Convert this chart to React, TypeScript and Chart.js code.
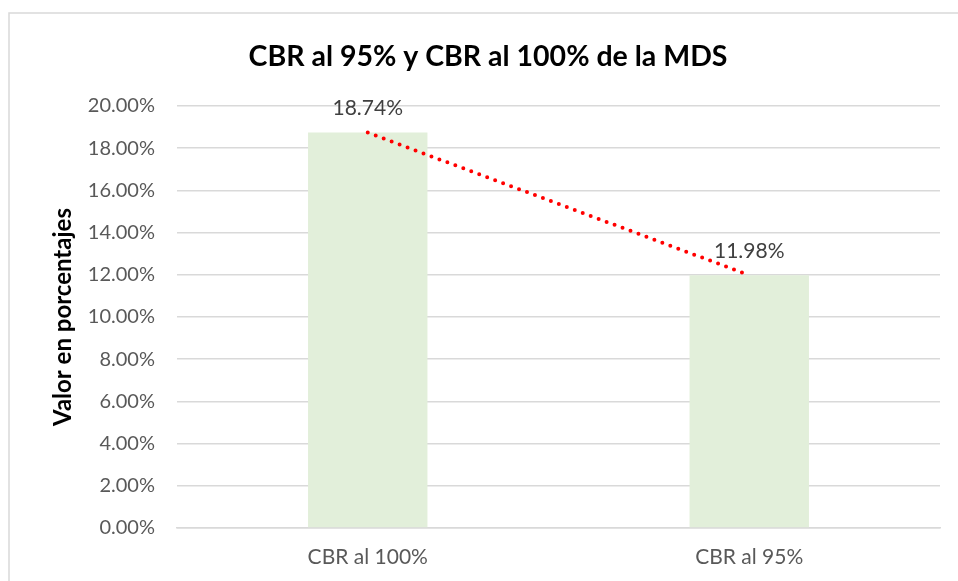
import React, { useEffect, useRef } from "react";
import { Chart, registerables } from "chart.js";

Chart.register(...registerables);

const categories = ["CBR al 100%", "CBR al 95%"];
const cbrValues = [18.74, 11.98];
const trendValues = [18.74, 11.98];
const yTicks = { min: 0, max: 20, step: 2 };
const titleText = "CBR al 95% y CBR al 100% de la MDS";
const yAxisTitle = "Valor en porcentajes";

const FONT = "Lato, 'Noto Sans', sans-serif";

const borderPlugin = {
  id: "outerBorder",
  beforeDraw(chart: any) {
    const ctx = chart.ctx;
    ctx.save();
    ctx.strokeStyle = "#d9d9d9";
    ctx.lineWidth = 1.5;
    ctx.beginPath();
    ctx.moveTo(9, chart.height);
    ctx.lineTo(9, 13);
    ctx.lineTo(chart.width, 13);
    ctx.stroke();
    ctx.restore();
  },
};

const titlePlugin = {
  id: "chartTitle",
  afterDraw(chart: any) {
    const ctx = chart.ctx;
    ctx.save();
    ctx.font = `bold 28.5px ${FONT}`;
    ctx.fillStyle = "#000000";
    ctx.textAlign = "center";
    ctx.textBaseline = "middle";
    ctx.fillText(titleText, 488, 57);
    ctx.restore();
  },
};

const labelPlugin = {
  id: "barLabels",
  afterDatasetsDraw(chart: any) {
    const ctx = chart.ctx;
    const meta = chart.getDatasetMeta(0);
    ctx.save();
    ctx.font = `21px ${FONT}`;
    ctx.fillStyle = "#404040";
    ctx.textAlign = "center";
    ctx.textBaseline = "middle";
    meta.data.forEach((el: any, i: number) => {
      const v = chart.data.datasets[0].data[i] as number;
      ctx.fillText(v.toFixed(2) + "%", el.x, el.y - 24);
    });
    ctx.restore();
  },
};

export default function App() {
  const ref = useRef<HTMLCanvasElement | null>(null);
  useEffect(() => {
    if (!ref.current) return;
    const chart = new Chart(ref.current, {
      type: "bar",
      data: {
        labels: categories,
        datasets: [
          {
            type: "bar",
            data: cbrValues,
            backgroundColor: "#e2efda",
            borderWidth: 0,
            barPercentage: 0.313,
            categoryPercentage: 1,
            order: 2,
          },
          {
            type: "line",
            data: trendValues,
            borderColor: "#ff0000",
            borderWidth: 4,
            borderDash: [0, 8.5],
            borderCapStyle: "round",
            pointRadius: 0,
            fill: false,
            order: 1,
          } as any,
        ],
      },
      options: {
        animation: false,
        responsive: true,
        maintainAspectRatio: false,
        layout: { padding: { left: 0, right: 18, top: 106, bottom: 0 } },
        plugins: {
          legend: { display: false },
          tooltip: { enabled: false },
          title: { display: false },
        },
        scales: {
          x: {
            grid: { display: false, drawTicks: false },
            border: { display: true, color: "#d9d9d9", width: 1.5 },
            ticks: {
              color: "#595959",
              font: { family: FONT, size: 21 },
              padding: 16.4,
            },
            afterFit(scale: any) {
              scale.height = 53;
            },
          },
          y: {
            min: yTicks.min,
            max: yTicks.max,
            grid: { color: "#d9d9d9", lineWidth: 1.5, drawTicks: false },
            border: { display: false },
            ticks: {
              stepSize: yTicks.step,
              color: "#595959",
              font: { family: FONT, size: 20 },
              padding: 22,
              callback: (v: any) => Number(v).toFixed(2) + "%",
            },
            title: {
              display: true,
              text: yAxisTitle,
              color: "#000000",
              font: { family: FONT, size: 24, weight: "bold" },
              padding: { top: 48.6, bottom: 0 },
            },
            afterFit(scale: any) {
              scale.width = 177;
            },
          },
        },
      },
      plugins: [borderPlugin, labelPlugin, titlePlugin],
    });
    return () => chart.destroy();
  }, []);
  return (
    <div style={{ position: "fixed", left: 0, top: 0, width: 958, height: 581, background: "#ffffff" }}>
      <canvas ref={ref} />
    </div>
  );
}
